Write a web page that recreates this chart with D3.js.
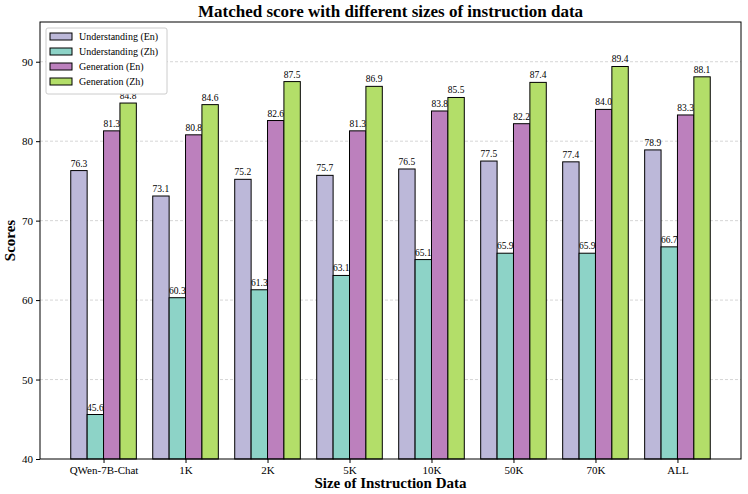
<!DOCTYPE html>
<html><head><meta charset="utf-8">
<script src="https://cdn.jsdelivr.net/npm/d3@7"></script>
<style>body{margin:0;background:#fff}text{font-family:"Liberation Serif",serif}</style>
</head><body><div id="chart"></div>
<script>
const categories = ["QWen-7B-Chat", "1K", "2K", "5K", "10K", "50K", "70K", "ALL"];
const seriesNames = ["Understanding (En)", "Understanding (Zh)", "Generation (En)", "Generation (Zh)"];
const understandingEn = [76.3, 73.1, 75.2, 75.7, 76.5, 77.5, 77.4, 78.9];
const understandingZh = [45.6, 60.3, 61.3, 63.1, 65.1, 65.9, 65.9, 66.7];
const generationEn = [81.3, 80.8, 82.6, 81.3, 83.8, 82.2, 84.0, 83.3];
const generationZh = [84.8, 84.6, 87.5, 86.9, 85.5, 87.4, 89.4, 88.1];
const yTicks = [40, 50, 60, 70, 80, 90];
const colors = ["#bcb8d9", "#8dd3c7", "#bc80bd", "#b3de69"];

const series = [understandingEn, understandingZh, generationEn, generationZh];
const W = 748, H = 494;
const M = {left: 40, right: 7, top: 22, bottom: 35};

const svg = d3.select("#chart").append("svg").attr("width", W).attr("height", H);

const X = d3.scalePoint().domain(categories).range([M.left, W - M.right]).padding(0.775);
const step = X.step();
const barW = step * 0.2;
const Y = d3.scaleLinear().domain([40, 95]).range([H - M.bottom, M.top]);

// grid
svg.append("g").selectAll("line").data(yTicks.slice(1)).enter().append("line")
  .attr("x1", M.left).attr("x2", W - M.right)
  .attr("y1", d => Y(d)).attr("y2", d => Y(d))
  .attr("stroke", "#ccc").attr("stroke-dasharray", "3,2").attr("stroke-width", 0.8);

series.forEach((vals, s) => {
  const g = svg.append("g");
  g.selectAll("rect").data(vals).enter().append("rect")
    .attr("x", (d, i) => X(categories[i]) + (s - 2) * barW)
    .attr("y", d => Y(d))
    .attr("width", barW)
    .attr("height", d => Y(40) - Y(d))
    .attr("fill", colors[s]).attr("stroke", "#000").attr("stroke-width", 1);
  g.selectAll("text").data(vals).enter().append("text")
    .attr("x", (d, i) => X(categories[i]) + (s - 1.5) * barW)
    .attr("y", d => Y(d) - 4)
    .attr("text-anchor", "middle").attr("font-size", 9.5)
    .text(d => d.toFixed(1));
});

svg.append("rect").attr("x", M.left).attr("y", M.top)
  .attr("width", W - M.left - M.right).attr("height", H - M.top - M.bottom)
  .attr("fill", "none").attr("stroke", "#000").attr("stroke-width", 1);

const xAxis = svg.append("g").attr("transform", `translate(0,${H - M.bottom})`)
  .call(d3.axisBottom(X).tickSizeOuter(0).tickSize(4));
xAxis.select(".domain").remove();
xAxis.selectAll("text").attr("font-size", 11).attr("fill", "#000");

const yAxis = svg.append("g").attr("transform", `translate(${M.left},0)`)
  .call(d3.axisLeft(Y).tickValues(yTicks).tickSize(4).tickSizeOuter(0));
yAxis.select(".domain").remove();
yAxis.selectAll("text").attr("font-size", 11).attr("fill", "#000");

svg.append("text").attr("x", (M.left + W - M.right) / 2).attr("y", 17)
  .attr("text-anchor", "middle").attr("font-size", 17).attr("font-weight", "bold")
  .text("Matched score with different sizes of instruction data");
svg.append("text").attr("x", (M.left + W - M.right) / 2).attr("y", 488)
  .attr("text-anchor", "middle").attr("font-size", 15).attr("font-weight", "bold")
  .text("Size of Instruction Data");
svg.append("text").attr("transform", `translate(15,${(M.top + H - M.bottom) / 2}) rotate(-90)`)
  .attr("text-anchor", "middle").attr("font-size", 15).attr("font-weight", "bold")
  .text("Scores");

// legend
const lg = svg.append("g").attr("transform", `translate(${M.left + 6},${M.top + 6})`);
lg.append("rect").attr("width", 121).attr("height", 66).attr("fill", "#fff")
  .attr("stroke", "#ccc").attr("rx", 2);
seriesNames.forEach((n, i) => {
  lg.append("rect").attr("x", 4).attr("y", 5 + i * 15).attr("width", 22).attr("height", 7)
    .attr("fill", colors[i]).attr("stroke", "#000");
  lg.append("text").attr("x", 33).attr("y", 12 + i * 15).attr("font-size", 10).text(n);
});
</script></body></html>
